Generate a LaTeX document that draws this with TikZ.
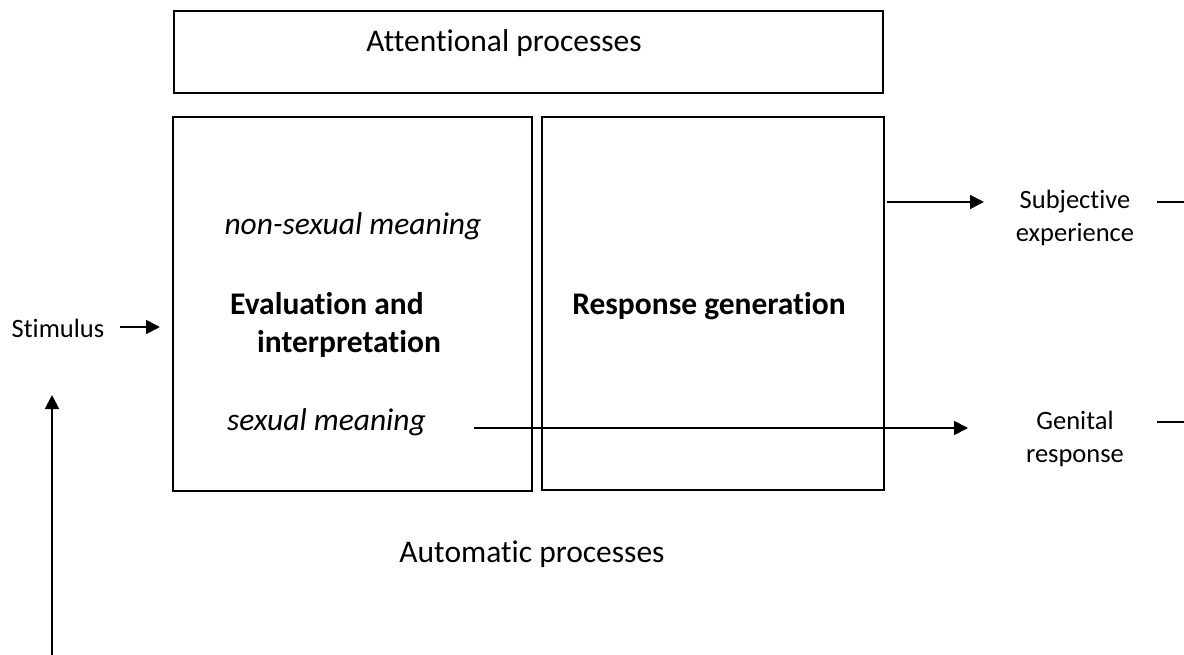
\documentclass[tikz,border=0pt]{standalone}
\usepackage{fontspec}
\setmainfont[Ligatures=NoCommon]{Carlito}
\usetikzlibrary{arrows.meta}
\begin{document}
\begin{tikzpicture}[x=1pt,y=-1pt,
  box/.style={draw, line width=1.8pt, inner sep=0pt},
  big/.style={font=\fontsize{31.5}{38}\selectfont, inner sep=0pt},
  small/.style={font=\fontsize{26.5}{33}\selectfont, inner sep=0pt},
  conn/.style={line width=1.8pt, -{Triangle[length=14pt,width=14pt]}},
  plainline/.style={line width=1.8pt}]
\useasboundingbox (0,0) rectangle (1184,655);
% boxes
\node[box, minimum width=709pt, minimum height=82pt, anchor=north west] (att) at (173,10) {};
\node[box, minimum width=359pt, minimum height=374pt, anchor=north west] (evalbox) at (172,116) {};
\node[box, minimum width=342pt, minimum height=373pt, anchor=north west] (respbox) at (541,116) {};
% texts
\node[big, anchor=base] (attt) at (504,52) {Attentional processes};
\node[big, anchor=base] (nonsex) at (353,235) {\itshape non-sexual meaning};
\node[big, anchor=base west] (eval1) at (230,314) {\bfseries Evaluation and};
\node[big, anchor=base west] (eval2) at (257,352) {\bfseries interpretation};
\node[big, anchor=base west] (sexm) at (227,430) {\itshape sexual meaning};
\node[big, anchor=base] (respt) at (709,314) {\bfseries Response generation};
\node[big, anchor=base] (auto) at (532,562) {Automatic processes};
\node[small, anchor=base] (stim) at (58,337) {Stimulus};
\node[small, anchor=base] (subj1) at (1075,209) {Subjective};
\node[small, anchor=base] (subj2) at (1075,242) {experience};
\node[small, anchor=base] (gen1) at (1075,429) {Genital};
\node[small, anchor=base] (gen2) at (1075,462) {response};
% connector end points
\coordinate (stimA) at (120,327);
\coordinate (stimB) at (160,327);
\coordinate (subA) at (887,202);
\coordinate (subB) at (984,202);
\coordinate (genA) at (474,428);
\coordinate (genB) at (968,428);
\coordinate (subOutA) at (1157,202);
\coordinate (subOutB) at (1184,202);
\coordinate (genOutA) at (1157,422);
\coordinate (genOutB) at (1184,422);
\coordinate (upA) at (52,655);
\coordinate (upB) at (52,395);
% connectors
\draw[conn] (stimA) -- (stimB);
\draw[conn] (subA) -- (subB);
\draw[conn] (genA) -- (genB);
\draw[plainline] (subOutA) -- (subOutB);
\draw[plainline] (genOutA) -- (genOutB);
\draw[conn] (upA) -- (upB);
\end{tikzpicture}
\end{document}
